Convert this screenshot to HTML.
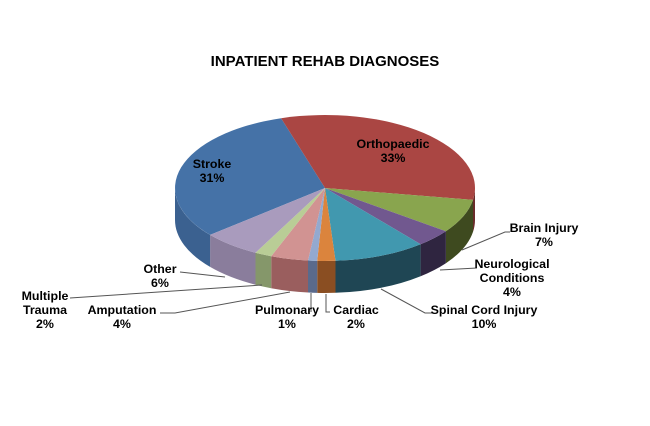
<!DOCTYPE html>
<html><head><style>
body{margin:0;background:#fff;}
svg text{font-family:"Liberation Sans",Arial,sans-serif;font-weight:bold;font-size:12.4px;fill:#000;}
</style></head><body>
<svg width="650" height="421" xmlns="http://www.w3.org/2000/svg">
<rect width="650" height="421" fill="#fff"/>
<text x="325" y="66" text-anchor="middle" style="font-size:15px">INPATIENT REHAB DIAGNOSES</text>
<path d="M475 188 A150 73 0 0 1 473 199.9 L473 231.9 A150 73 0 0 0 475 220 Z" fill="#6a2b29"/>
<path d="M473 199.9 A150 73 0 0 1 445.9 231.2 L445.9 263.2 A150 73 0 0 0 473 231.9 Z" fill="#3e4a1f"/>
<path d="M445.9 231.2 A150 73 0 0 1 420.6 244.2 L420.6 276.2 A150 73 0 0 0 445.9 263.2 Z" fill="#2f2540"/>
<path d="M420.6 244.2 A150 73 0 0 1 335.5 260.8 L335.5 292.8 A150 73 0 0 0 420.6 276.2 Z" fill="#1f4654"/>
<path d="M335.5 260.8 A150 73 0 0 1 317.2 260.9 L317.2 292.9 A150 73 0 0 0 335.5 292.8 Z" fill="#8a4e22"/>
<path d="M317.2 260.9 A150 73 0 0 1 308 260.5 L308 292.5 A150 73 0 0 0 317.2 292.9 Z" fill="#5a6a8c"/>
<path d="M308 260.5 A150 73 0 0 1 271.2 256.2 L271.2 288.2 A150 73 0 0 0 308 292.5 Z" fill="#9a5e5e"/>
<path d="M271.2 256.2 A150 73 0 0 1 255.5 252.7 L255.5 284.7 A150 73 0 0 0 271.2 288.2 Z" fill="#85976a"/>
<path d="M255.5 252.7 A150 73 0 0 1 210.1 234.9 L210.1 266.9 A150 73 0 0 0 255.5 284.7 Z" fill="#8a7d9c"/>
<path d="M210.1 234.9 A150 73 0 0 1 175 188 L175 220 A150 73 0 0 0 210.1 266.9 Z" fill="#3b6190"/>
<path d="M325 188 L210.1 234.9 A150 73 0 0 1 281.1 118.2 Z" fill="#4572A7"/>
<path d="M325 188 L281.1 118.2 A150 73 0 0 1 473 199.9 Z" fill="#AA4643"/>
<path d="M325 188 L473 199.9 A150 73 0 0 1 445.9 231.2 Z" fill="#89A54E"/>
<path d="M325 188 L445.9 231.2 A150 73 0 0 1 420.6 244.2 Z" fill="#71588F"/>
<path d="M325 188 L420.6 244.2 A150 73 0 0 1 335.5 260.8 Z" fill="#4198AF"/>
<path d="M325 188 L335.5 260.8 A150 73 0 0 1 317.2 260.9 Z" fill="#DB843D"/>
<path d="M325 188 L317.2 260.9 A150 73 0 0 1 308 260.5 Z" fill="#93A9CF"/>
<path d="M325 188 L308 260.5 A150 73 0 0 1 271.2 256.2 Z" fill="#D19392"/>
<path d="M325 188 L271.2 256.2 A150 73 0 0 1 255.5 252.7 Z" fill="#B9CD96"/>
<path d="M325 188 L255.5 252.7 A150 73 0 0 1 210.1 234.9 Z" fill="#A99BBD"/>
<g stroke="#555" stroke-width="1" fill="none">
<path d="M180 272 L225 277"/>
<path d="M70 298 L262 285"/>
<path d="M160 313 L175 313 L290 292"/>
<path d="M311 293 L311 312"/>
<path d="M326 294 L326 312 L330 312"/>
<path d="M462 250 L505 232 L510 232"/>
<path d="M440 270 L477 268"/>
<path d="M381 289 L425 313 L432 313"/>
</g>
<text x="212" y="168" text-anchor="middle">Stroke</text>
<text x="212" y="182" text-anchor="middle">31%</text>
<text x="393" y="148" text-anchor="middle">Orthopaedic</text>
<text x="393" y="162" text-anchor="middle">33%</text>
<text x="544" y="232" text-anchor="middle">Brain Injury</text>
<text x="544" y="246" text-anchor="middle">7%</text>
<text x="512" y="268" text-anchor="middle">Neurological</text>
<text x="512" y="282" text-anchor="middle">Conditions</text>
<text x="512" y="296" text-anchor="middle">4%</text>
<text x="484" y="314" text-anchor="middle">Spinal  Cord Injury</text>
<text x="484" y="328" text-anchor="middle">10%</text>
<text x="356" y="314" text-anchor="middle">Cardiac</text>
<text x="356" y="328" text-anchor="middle">2%</text>
<text x="287" y="314" text-anchor="middle">Pulmonary</text>
<text x="287" y="328" text-anchor="middle">1%</text>
<text x="122" y="314" text-anchor="middle">Amputation</text>
<text x="122" y="328" text-anchor="middle">4%</text>
<text x="45" y="300" text-anchor="middle">Multiple</text>
<text x="45" y="314" text-anchor="middle">Trauma</text>
<text x="45" y="328" text-anchor="middle">2%</text>
<text x="160" y="273" text-anchor="middle">Other</text>
<text x="160" y="287" text-anchor="middle">6%</text>
</svg>
</body></html>
